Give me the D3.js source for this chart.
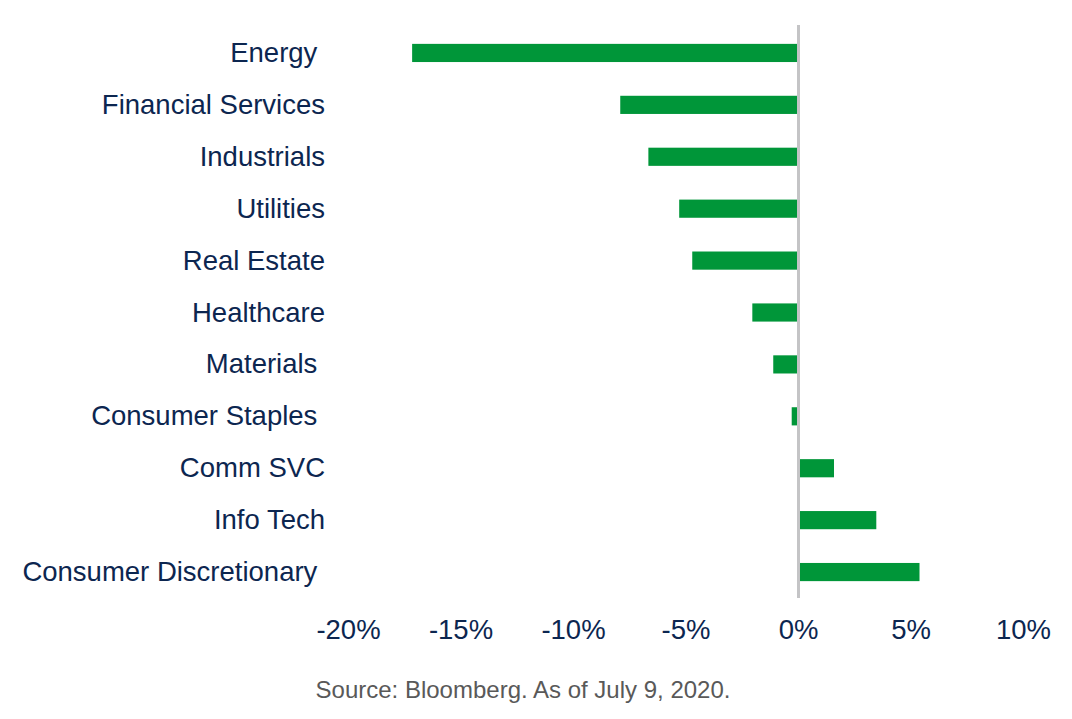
<!DOCTYPE html>
<html>
<head>
<meta charset="utf-8">
<script src="https://cdn.jsdelivr.net/npm/d3@7"></script>
<style>
  body { margin: 0; background: #fff; }
  text { font-family: "Liberation Sans", Arial, sans-serif; }
</style>
</head>
<body>
<svg id="chart" width="1072" height="719"></svg>
<script>
// sector returns (%), top to bottom
var sectors = ["Energy ", "Financial Services", "Industrials", "Utilities", "Real Estate",
    "Healthcare", "Materials ", "Consumer Staples ", "Comm SVC", "Info Tech", "Consumer Discretionary "];
var returns = [-17.15, -7.9, -6.65, -5.28, -4.7, -2.03, -1.1, -0.28, 1.6, 3.48, 5.4];
var tickValues = [-20, -15, -10, -5, 0, 5, 10];

var barColor = "#009639";
var textColor = "#0c2650";

var svg = d3.select("#chart");

var x = d3.scaleLinear().domain([-20, 10]).range([348, 1023]);
var y = d3.scaleBand().domain(sectors).range([27, 598]).paddingInner(0.65).paddingOuter(0.325);

// bars
svg.append("g").selectAll("rect")
    .data(returns)
    .enter().append("rect")
    .attr("x", function (d) { return x(Math.min(0, d)); })
    .attr("width", function (d) { return Math.abs(x(d) - x(0)); })
    .attr("y", function (d, i) { return y(sectors[i]); })
    .attr("height", y.bandwidth())
    .style("fill", barColor);

// zero line
svg.append("line")
    .attr("x1", x(0) + 0.5).attr("x2", x(0) + 0.5)
    .attr("y1", 25).attr("y2", 598)
    .style("stroke", "#c4c4c6")
    .style("stroke-width", 3);

// category labels
svg.append("g").selectAll("text")
    .data(sectors)
    .enter().append("text")
    .attr("x", 325)
    .attr("y", function (d) { return y(d) + y.bandwidth() / 2; })
    .attr("dy", "0.33em")
    .attr("text-anchor", "end")
    .style("white-space", "pre")
    .style("font-size", "27.5px")
    .style("fill", textColor)
    .text(function (d) { return d; });

// x axis
var xAxis = d3.axisBottom(x).tickValues(tickValues)
    .tickFormat(function (d) { return d + "%"; })
    .tickSize(0).tickPadding(0);
var axisG = svg.append("g").attr("transform", "translate(0,619)").call(xAxis);
axisG.select(".domain").remove();
axisG.selectAll("text")
    .style("font-family", "'Liberation Sans', Arial, sans-serif")
    .style("font-size", "27.5px")
    .style("fill", textColor);

// source note
svg.append("text")
    .attr("x", 523)
    .attr("y", 698)
    .attr("text-anchor", "middle")
    .style("font-size", "24px")
    .style("fill", "#595959")
    .text("Source: Bloomberg. As of July 9, 2020.");
</script>
</body>
</html>
